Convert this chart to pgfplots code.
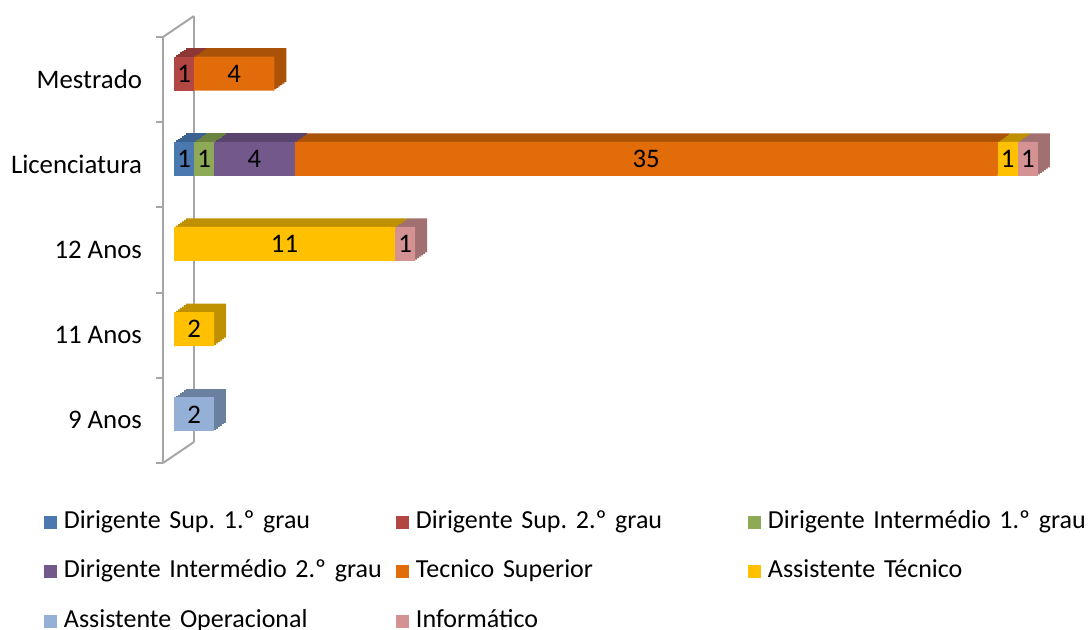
\documentclass[border=0pt]{standalone}
\usepackage{pgfplots}
\pgfplotsset{compat=1.18}
\usepackage{pgfplotstable}
\usepackage{fontspec}
\setmainfont{Carlito}
\frenchspacing

% front faces
\definecolor{fDS1}{HTML}{4A78AF}
\definecolor{fDS2}{HTML}{B24642}
\definecolor{fDI1}{HTML}{8FAA57}
\definecolor{fDI2}{HTML}{73588C}
\definecolor{fTS}{HTML}{E36C0A}
\definecolor{fAT}{HTML}{FFC000}
\definecolor{fAO}{HTML}{95B0D6}
\definecolor{fINF}{HTML}{D49292}
% top / side faces
\definecolor{tDS1}{HTML}{3C6291}
\definecolor{tDS2}{HTML}{8C3734}
\definecolor{tDI1}{HTML}{6B8240}
\definecolor{tDI2}{HTML}{58446C}
\definecolor{tTS}{HTML}{AA5208}
\definecolor{tAT}{HTML}{BF9000}
\definecolor{tAO}{HTML}{6A809F}
\definecolor{tINF}{HTML}{A17070}
\definecolor{wallgray}{HTML}{A6A6A6}

% 0 = 9 Anos ... 4 = Mestrado
\pgfplotstableread{
y DS1 DS2 DI1 DI2 TS AT AO INF
0 0 0 0 0 0 0 2 0
1 0 0 0 0 0 2 0 0
2 0 0 0 0 0 11 0 1
3 1 0 1 4 35 1 0 1
4 0 1 0 0 4 0 0 0
}\dados

\newcommand{\lblfont}{\fontsize{13.4}{16}\selectfont}
\newcommand{\legfont}{\fontsize{13}{15.6}\selectfont}

\pgfplotsset{
  base/.style={
    scale only axis,
    x=10.045pt, y=42.6pt,
    xmin=-0.548, xmax=45,
    ymin=-0.5, ymax=4.5,
    xbar stacked,
    bar width=17pt,
    bar shift=3pt,
    clip=false,
  },
}

\begin{document}
\begin{tikzpicture}
\useasboundingbox (-81.5pt,-83.5pt) rectangle (462.5pt,231.5pt);

% back wall line
\begin{axis}[base, hide axis, xshift=15.5pt, yshift=10.5pt]
\draw[wallgray, line width=1pt] (rel axis cs:0,0) -- (rel axis cs:0,1);
\end{axis}

% depth of the bars
\foreach \s in {1,0.8333,0.6667,0.5,0.3333,0.1667}{
\begin{axis}[base, hide axis, xshift=\s*6pt, yshift=\s*4.25pt]
\addplot[fill=tDS1, draw=none] table[x=DS1, y=y]{\dados};
\addplot[fill=tDS2, draw=none] table[x=DS2, y=y]{\dados};
\addplot[fill=tDI1, draw=none] table[x=DI1, y=y]{\dados};
\addplot[fill=tDI2, draw=none] table[x=DI2, y=y]{\dados};
\addplot[fill=tTS, draw=none] table[x=TS, y=y]{\dados};
\addplot[fill=tAT, draw=none] table[x=AT, y=y]{\dados};
\addplot[fill=tAO, draw=none] table[x=AO, y=y]{\dados};
\addplot[fill=tINF, draw=none] table[x=INF, y=y]{\dados};
\end{axis}
}

% front faces
\begin{axis}[base, name=front,
  axis x line=none, axis y line=left,
  axis line style={-, wallgray, line width=1pt},
  xtick=\empty,
  ytick={0,1,2,3,4},
  yticklabels={9 Anos, 11 Anos, 12 Anos, Licenciatura, Mestrado},
  minor ytick={-0.5,0.5,1.5,2.5,3.5,4.5},
  major tick length=0pt, minor tick length=3.5pt,
  tick align=outside,
  minor tick style={wallgray, line width=1pt},
  yticklabel style={font=\lblfont, text=black, xshift=-7pt},
  point meta=explicit,
  /pgf/number format/assume math mode=true,
  nodes near coords={\pgfmathfloatifflags{\pgfplotspointmeta}{0}{}{\pgfmathprintnumber{\pgfplotspointmeta}}},
  every node near coord/.append style={anchor=center, font=\lblfont, text=black},
  legend columns=3,
  legend cell align=left,
  legend image code/.code={\fill[#1] (0pt,-3.25pt) rectangle (6.5pt,3.25pt);},
  legend style={at={(axis description cs:-0.1305,-0.110)}, anchor=north west,
    draw=none, fill=none, inner sep=0pt, font=\legfont, text=black,
    column sep=3.5pt, row sep=12.8pt,
    nodes={inner sep=0pt, text width=166pt, align=left, text height=9pt, text depth=3pt},
    /tikz/every even column/.append style={column sep=0pt}},
]
\addplot[fill=fDS1, draw=none] table[x=DS1, y=y, meta=DS1]{\dados};
\addlegendentry{Dirigente Sup.\ 1.º grau}
\addplot[fill=fDS2, draw=none] table[x=DS2, y=y, meta=DS2]{\dados};
\addlegendentry{Dirigente Sup.\ 2.º grau}
\addplot[fill=fDI1, draw=none] table[x=DI1, y=y, meta=DI1]{\dados};
\addlegendentry{Dirigente Intermédio 1.º grau}
\addplot[fill=fDI2, draw=none] table[x=DI2, y=y, meta=DI2]{\dados};
\addlegendentry{Dirigente Intermédio 2.º grau}
\addplot[fill=fTS, draw=none] table[x=TS, y=y, meta=TS]{\dados};
\addlegendentry{Tecnico Superior}
\addplot[fill=fAT, draw=none] table[x=AT, y=y, meta=AT]{\dados};
\addlegendentry{Assistente Técnico}
\addplot[fill=fAO, draw=none] table[x=AO, y=y, meta=AO]{\dados};
\addlegendentry{Assistente Operacional}
\addplot[fill=fINF, draw=none] table[x=INF, y=y, meta=INF]{\dados};
\addlegendentry{Informático}
% wall diagonals
\draw[wallgray, line width=1pt] (rel axis cs:0,1) -- ++(15.5pt,10.5pt);
\draw[wallgray, line width=1pt] (rel axis cs:0,0) -- ++(15.5pt,10.5pt);
\end{axis}
\end{tikzpicture}
\end{document}
